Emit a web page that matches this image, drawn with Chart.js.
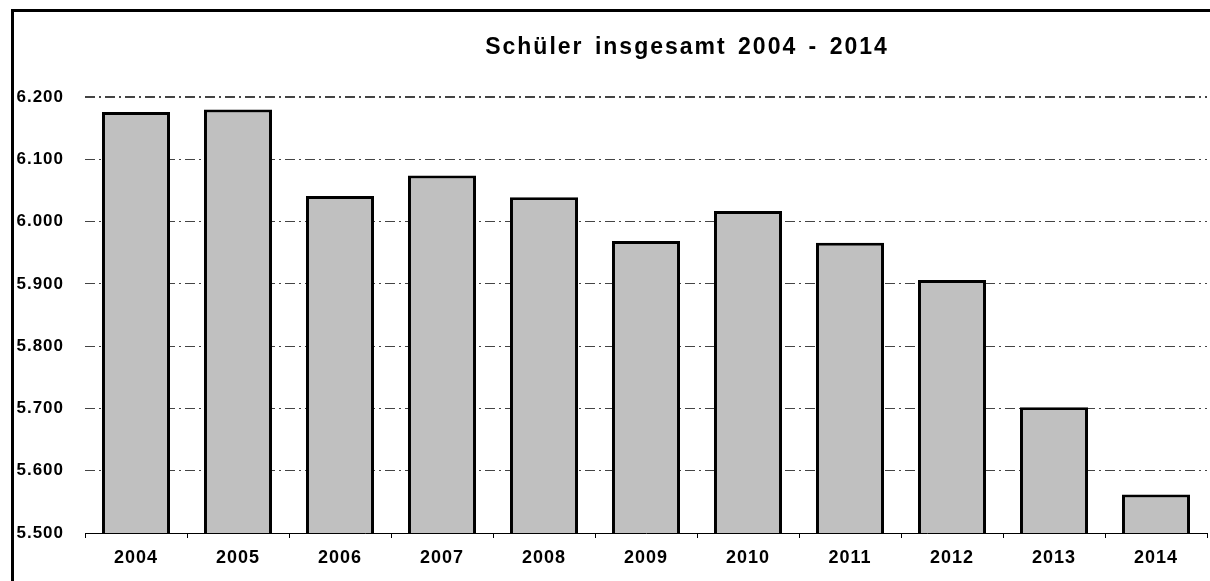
<!DOCTYPE html>
<html>
<head>
<meta charset="utf-8">
<script src="https://cdn.jsdelivr.net/npm/chart.js@4/dist/chart.umd.min.js"></script>
<style>
  html, body { margin: 0; padding: 0; background: #fff; }
  #wrap { width: 1210px; height: 581px; }
</style>
</head>
<body>
<div id="wrap"><canvas id="c" width="1210" height="581"></canvas></div>
<script>
// Schülerzahlen (in Tausend) je Schuljahr
const years = ['2004', '2005', '2006', '2007', '2008', '2009', '2010', '2011', '2012', '2013', '2014'];
const pupils = [6176, 6180, 6041, 6074, 6039, 5969, 6017, 5966, 5906, 5702, 5562];
const yMin = 5500;
const yMax = 6200;
const yStep = 100;
const titleText = 'Schüler insgesamt 2004 - 2014';

const FONT = "'Liberation Sans', Arial, sans-serif";

function formatThousands(v) {
  const n = Math.round(v);
  const hi = Math.floor(n / 1000);
  const lo = String(n % 1000).padStart(3, '0');
  return hi + '.' + lo;
}

// Etwas gesperrte Schrift für die Achsenbeschriftung
const spacingPlugin = {
  id: 'spacing',
  beforeDraw(chart) {
    chart.ctx.letterSpacing = '1px';
  },
  afterDraw(chart) {
    chart.ctx.letterSpacing = '0px';
  }
};

// Rahmen und Überschrift
const framePlugin = {
  id: 'frame',
  afterDraw(chart) {
    const ctx = chart.ctx;
    ctx.save();
    ctx.strokeStyle = '#000';
    ctx.lineWidth = 3;
    ctx.beginPath();
    ctx.moveTo(12.5, 581);
    ctx.lineTo(12.5, 10.5);
    ctx.lineTo(1210, 10.5);
    ctx.stroke();

    ctx.fillStyle = '#000';
    ctx.font = 'bold 23px ' + FONT;
    ctx.letterSpacing = '2px';
    ctx.wordSpacing = '3px';
    ctx.textAlign = 'center';
    ctx.textBaseline = 'middle';
    ctx.fillText(titleText, 687, 48);
    ctx.restore();
  }
};

new Chart(document.getElementById('c'), {
  type: 'bar',
  data: {
    labels: years,
    datasets: [{
      data: pupils,
      backgroundColor: '#c0c0c0',
      borderColor: '#000',
      borderWidth: 3,
      borderSkipped: 'bottom',
      barPercentage: 0.667,
      categoryPercentage: 1
    }]
  },
  options: {
    responsive: false,
    animation: false,
    devicePixelRatio: 1,
    layout: { padding: { left: 0, right: 3, top: 97, bottom: 0 } },
    plugins: { legend: { display: false }, title: { display: false }, tooltip: { enabled: false } },
    scales: {
      x: {
        offset: true,
        border: { display: true, color: '#000', width: 1 },
        grid: {
          offset: true,
          drawOnChartArea: false,
          drawTicks: true,
          tickLength: 5,
          color: '#000',
          lineWidth: 1
        },
        ticks: {
          color: '#000',
          padding: 9,
          maxRotation: 0,
          font: { family: FONT, size: 18, weight: 'bold' }
        },
        afterFit(scale) { scale.height = 48; }
      },
      y: {
        min: yMin,
        max: yMax,
        border: { display: false, dash: [10, 4, 2, 4] },
        grid: {
          drawTicks: false,
          color(ctx) {
            return ctx.tick && ctx.tick.value === yMin ? 'rgba(0,0,0,0)' : '#444';
          },
          lineWidth(ctx) {
            return ctx.tick && ctx.tick.value === yMax ? 2 : 1;
          }
        },
        ticks: {
          stepSize: yStep,
          color: '#000',
          padding: 21,
          font: { family: FONT, size: 17, weight: 'bold' },
          callback: (v) => formatThousands(v)
        },
        afterFit(scale) { scale.width = 85; }
      }
    }
  },
  plugins: [spacingPlugin, framePlugin]
});
</script>
</body>
</html>
